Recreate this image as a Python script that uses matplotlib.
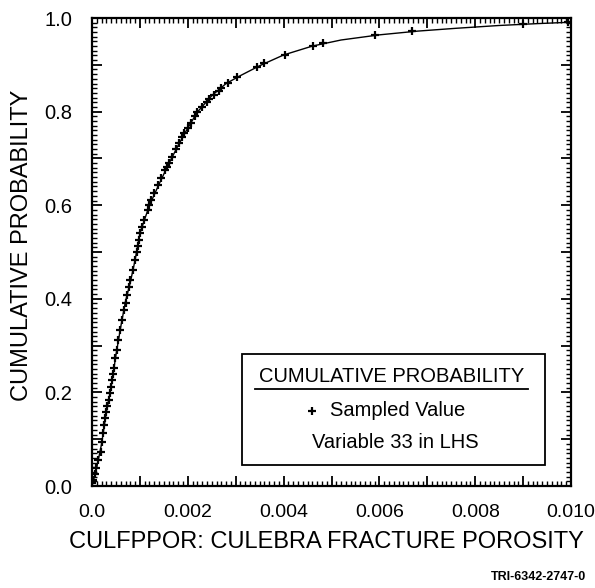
import matplotlib
matplotlib.use("Agg")
import matplotlib.pyplot as plt
from matplotlib.ticker import MultipleLocator, FuncFormatter

plt.rcParams['font.family'] = ['Liberation Sans', 'DejaVu Sans']

# Smooth CDF curve
curve_x = [0.0, 0.00005, 0.0001, 0.0002, 0.0003, 0.0004, 0.0005, 0.0006, 0.0007,
           0.0008, 0.0009, 0.0010, 0.0012, 0.0014, 0.0016, 0.0018, 0.0020, 0.0022,
           0.0025, 0.0028, 0.0031, 0.0035, 0.0040, 0.0046, 0.0052, 0.0060, 0.0068,
           0.0076, 0.0085, 0.0093, 0.0100]
curve_p = [0.0, 0.02, 0.04, 0.09, 0.158, 0.212, 0.28, 0.34, 0.395,
           0.435, 0.483, 0.54, 0.60, 0.645, 0.688, 0.728, 0.765, 0.799,
           0.834, 0.86, 0.877, 0.898, 0.921, 0.94, 0.953, 0.964, 0.972,
           0.978, 0.984, 0.988, 0.991]

sample_x = [0.00001, 0.00003, 0.00006, 0.00008, 0.00013, 0.00018, 0.00021, 0.00024,
            0.00026, 0.00028, 0.00030, 0.00032, 0.00035, 0.00038, 0.00040, 0.00042,
            0.00044, 0.00046, 0.00049, 0.00052, 0.00055, 0.00059, 0.00063, 0.00067,
            0.00070, 0.00073, 0.00077, 0.00080, 0.00085, 0.00090, 0.00093, 0.00095,
            0.00098, 0.00100, 0.00104, 0.00109, 0.00116, 0.00120, 0.00124, 0.00130,
            0.00137, 0.00144, 0.00152, 0.00156, 0.00161, 0.00167, 0.00175, 0.00181,
            0.00188, 0.00193, 0.00200, 0.00206, 0.00214, 0.00220, 0.00230, 0.00240,
            0.00245, 0.00254, 0.00265, 0.00270, 0.00283, 0.00303, 0.00344, 0.00360,
            0.00403, 0.00461, 0.00482, 0.00590, 0.00668, 0.00900, 0.00994]
sample_p = [0.006, 0.013, 0.025, 0.038, 0.055, 0.073, 0.094, 0.113,
            0.130, 0.145, 0.158, 0.170, 0.184, 0.199, 0.212, 0.226,
            0.240, 0.252, 0.273, 0.290, 0.312, 0.333, 0.355, 0.376,
            0.391, 0.408, 0.425, 0.440, 0.462, 0.483, 0.500, 0.512,
            0.526, 0.540, 0.553, 0.568, 0.590, 0.600, 0.611, 0.626,
            0.643, 0.658, 0.675, 0.682, 0.690, 0.703, 0.720, 0.733,
            0.745, 0.754, 0.765, 0.776, 0.790, 0.799, 0.810, 0.820,
            0.826, 0.835, 0.845, 0.850, 0.861, 0.874, 0.895, 0.904,
            0.921, 0.940, 0.947, 0.964, 0.972, 0.987, 0.991]

xlabel = "CULFPPOR: CULEBRA FRACTURE POROSITY"
ylabel = "CUMULATIVE PROBABILITY"
legend_title = "CUMULATIVE PROBABILITY"
legend_marker_text = "Sampled Value"
legend_note = "Variable 33 in LHS"
figure_id = "TRI-6342-2747-0"

fig = plt.figure(figsize=(5.95, 5.88), dpi=100)
ax = fig.add_axes([92/595, 1-486/588, (571-92)/595, (486-18)/588])

ax.plot(curve_x, curve_p, color='black', lw=1.0)
ax.plot(sample_x, sample_p, linestyle='none', marker='+', color='black',
        markersize=5.5, markeredgewidth=1.6)

ax.set_xlim(0, 0.010)
ax.set_ylim(0, 1.0)

ax.xaxis.set_major_locator(MultipleLocator(0.001))
ax.xaxis.set_minor_locator(MultipleLocator(0.0001))
ax.yaxis.set_major_locator(MultipleLocator(0.1))
ax.yaxis.set_minor_locator(MultipleLocator(0.01))

def xfmt(v, pos):
    k = int(round(v / 0.001))
    if k % 2:
        return ""
    if k == 0:
        return "0.0"
    return "%.3f" % v

def yfmt(v, pos):
    k = int(round(v / 0.1))
    if k % 2:
        return ""
    return "%.1f" % v

ax.xaxis.set_major_formatter(FuncFormatter(xfmt))
ax.yaxis.set_major_formatter(FuncFormatter(yfmt))

ax.tick_params(which='both', direction='in', top=True, right=True, labelsize=14.5)
ax.tick_params(axis='x', labelsize=14)
ax.tick_params(which='major', length=7, width=1.3)
ax.tick_params(axis='x', which='major', pad=13)
ax.tick_params(axis='y', which='major', pad=14)
ax.tick_params(which='minor', length=3.5, width=1.0)
for s in ax.spines.values():
    s.set_linewidth(1.6)

ax.set_xlabel(xlabel, fontsize=17)
ax.set_ylabel(ylabel, fontsize=17)
ax.xaxis.set_label_coords(0.5 - 5/479, (486 - 531) / 468)
ax.yaxis.set_label_coords((33 - 92) / 479, (486 - 245) / 468)

# Legend box drawn in figure pixel coordinates
def fx(px):
    return px / 595
def fy(py):
    return 1 - py / 588

box = plt.Rectangle((fx(242), fy(465)), fx(545) - fx(242), fy(354) - fy(465),
                    transform=fig.transFigure, fill=False, lw=1.3, color='black')
fig.add_artist(box)
fig.text(fx(392), fy(377), legend_title, ha='center', va='center', fontsize=14.5)
fig.add_artist(plt.Line2D([fx(255), fx(528)], [fy(389), fy(389)],
                          transform=fig.transFigure, color='black', lw=1.3))
fig.add_artist(plt.Line2D([fx(312)], [fy(411)], transform=fig.transFigure,
                          marker='+', color='black', markersize=5.5,
                          markeredgewidth=1.6, linestyle='none'))
fig.text(fx(330), fy(411), legend_marker_text, ha='left', va='center', fontsize=14.5)
fig.text(fx(395), fy(443), legend_note, ha='center', va='center', fontsize=14.5)

fig.text(fx(586), fy(577), figure_id, ha='right', va='center', fontsize=9,
         fontweight='bold')

fig.savefig("out.png", dpi=100)
